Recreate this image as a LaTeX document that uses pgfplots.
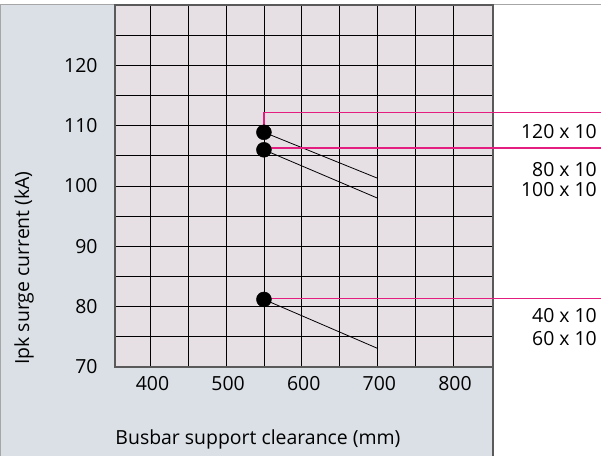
\documentclass[border=0pt]{standalone}
\usepackage{fontspec}
\setmainfont{Open Sans}
\usepackage{pgfplots}
\pgfplotsset{compat=1.18}
\definecolor{panel}{RGB}{218,224,230}
\definecolor{plotbg}{RGB}{230,223,228}
\definecolor{mag}{RGB}{228,30,128}
\definecolor{frame}{RGB}{90,90,90}
\begin{document}
\begin{tikzpicture}[x=1bp,y=1bp,font=\fontsize{19.5}{23}\selectfont]
\useasboundingbox (0,0) rectangle (601,456);
\fill[panel] (1,0) rectangle (493,451);
\draw[gray!70, line width=1bp] (0.5,0) -- (0.5,451) -- (601,451);
\begin{axis}[
 at={(115bp,89bp)}, anchor=south west, scale only axis, width=378bp, height=362bp,
 xmin=353, xmax=853, ymin=70, ymax=130,
 xtick={400,500,...,800}, minor xtick={450,550,650,750},
 ytick={70,80,...,120}, minor ytick={75,85,...,125},
 grid=both,
 major grid style={black, line width=0.8bp},
 minor grid style={black, line width=0.8bp},
 major tick length=0pt, minor tick length=0pt,
 axis background/.style={fill=plotbg},
 axis line style={frame, line width=1.3bp},
 clip=false,
 /pgf/number format/assume math mode=true,
 tick label style={font=\fontsize{19.5}{23}\selectfont},
 xticklabel style={yshift=-6bp, xshift=2bp},
 yticklabel style={xshift=-14bp},
]
\addplot[black, line width=0.8bp] coordinates {(550,108.9) (700,101.3)};
\addplot[black, line width=0.8bp] coordinates {(550,106.0) (700,98.0)};
\addplot[black, line width=0.8bp] coordinates {(550,81.2) (700,73.1)};
\addplot[only marks, mark=*, mark size=7.5bp, black] coordinates {(550,108.9) (550,106.0) (550,81.2)};
\addplot[mag, line width=1.4bp] coordinates {(550,108.9) (550,112.2) (996,112.2)};
\addplot[mag, line width=1.4bp] coordinates {(550,106.3) (996,106.3)};
\addplot[mag, line width=1.4bp] coordinates {(550,81.4) (996,81.4)};
\node[anchor=east] at (axis cs:995,109.1) {120 x 10};
\node[anchor=east] at (axis cs:995,102.7) {80 x 10};
\node[anchor=east] at (axis cs:995,99.4) {100 x 10};
\node[anchor=east] at (axis cs:995,78.5) {40 x 10};
\node[anchor=east] at (axis cs:995,74.65) {60 x 10};
\end{axis}
\draw[frame, line width=1.3bp] (493,0) -- (493,89);
\node at (258,17) {Busbar support clearance (mm)};
\node[rotate=90] at (24,188) {Ipk surge current (kA)};
\end{tikzpicture}
\end{document}
